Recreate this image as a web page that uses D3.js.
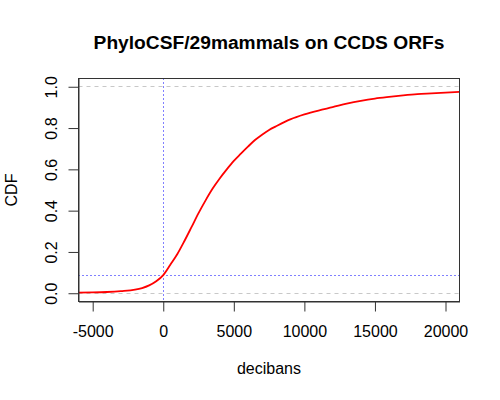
<!DOCTYPE html>
<html>
<head>
<meta charset="utf-8">
<script src="https://cdn.jsdelivr.net/npm/d3@7"></script>
<style>
  body { margin: 0; background: #fff; }
  svg { font-family: "Liberation Sans", Arial, sans-serif; }
</style>
</head>
<body>
<svg width="500" height="400"></svg>
<script>
// CDF, x in decibans
var decibans = [-6000, -5000, -4000, -3000, -2000, -1500, -1000, -500, 0, 500, 1000, 1500,
    2000, 2500, 3000, 3500, 4000, 4500, 5000, 5500, 6000, 6500, 7000, 7500, 8000,
    9000, 10000, 11000, 12000, 13000, 14000, 15000, 16000, 17000, 18000, 19000, 20000, 21000];
var cdf = [0.003, 0.004, 0.006, 0.010, 0.017, 0.025, 0.038, 0.058, 0.088, 0.138, 0.19, 0.253,
    0.32, 0.388, 0.45, 0.507, 0.556, 0.6, 0.641, 0.676, 0.71, 0.742, 0.768, 0.791, 0.809,
    0.842, 0.866, 0.885, 0.901, 0.918, 0.932, 0.943, 0.951, 0.958, 0.964, 0.968, 0.972, 0.975];
var xTicks = [-5000, 0, 5000, 10000, 15000, 20000];
var yTicks = [0, 0.2, 0.4, 0.6, 0.8, 1.0];
var refX = 0;       // vertical dotted line
var refY = 0.088;   // CDF at zero

var pLeft = 78.5, pRight = 459.5, pTop = 78.5, pBottom = 301.5;
var svg = d3.select("svg");

var x = d3.scaleLinear().domain([-6006, 20992]).range([pLeft, pRight]);
var y = d3.scaleLinear().domain([-0.04, 1.04]).range([pBottom, pTop]);
var crisp = v => Math.floor(v) + 0.5;

svg.append("defs").append("clipPath").attr("id", "plot")
    .append("rect")
    .attr("x", pLeft).attr("y", pTop)
    .attr("width", pRight - pLeft).attr("height", pBottom - pTop);

// gray dashed lines at 0 and 1
svg.selectAll(".hline")
    .data([0, 1])
    .enter().append("line")
    .attr("class", "hline")
    .attr("x1", pLeft).attr("x2", pRight)
    .attr("y1", d => crisp(y(d))).attr("y2", d => crisp(y(d)))
    .attr("stroke", "#c8c8c8")
    .attr("stroke-dasharray", "4,4");

// blue dotted reference lines
svg.append("line")
    .attr("x1", crisp(x(refX))).attr("x2", crisp(x(refX)))
    .attr("y1", pTop).attr("y2", pBottom)
    .attr("stroke", "blue").attr("stroke-dasharray", "1,3");
svg.append("line")
    .attr("x1", pLeft).attr("x2", pRight)
    .attr("y1", crisp(y(refY))).attr("y2", crisp(y(refY)))
    .attr("stroke", "blue").attr("stroke-dasharray", "1,3");

var line = d3.line()
    .x((d, i) => x(decibans[i]))
    .y(d => y(d))
    .curve(d3.curveMonotoneX);

svg.append("path")
    .datum(cdf)
    .attr("clip-path", "url(#plot)")
    .attr("fill", "none")
    .attr("stroke", "red")
    .attr("stroke-width", 1.8)
    .attr("d", line);

// box
svg.append("rect")
    .attr("x", pLeft).attr("y", pTop)
    .attr("width", pRight - pLeft).attr("height", pBottom - pTop)
    .attr("fill", "none").attr("stroke", "#333");

var xAxis = svg.append("g")
    .attr("transform", "translate(0," + pBottom + ")")
    .call(d3.axisBottom(x).tickValues(xTicks).tickSizeInner(10).tickSizeOuter(0)
        .tickFormat(d => String(d)));
xAxis.selectAll("text").attr("y", 35.5).attr("dy", 0);

var yAxis = svg.append("g")
    .attr("transform", "translate(" + pLeft + ",0)")
    .call(d3.axisLeft(y).tickValues(yTicks).tickSizeInner(10).tickSizeOuter(0)
        .tickFormat(d3.format(".1f")));
yAxis.selectAll("text")
    .attr("transform", "rotate(-90)")
    .attr("x", 0).attr("y", -22).attr("dy", 0)
    .style("text-anchor", "middle");

svg.selectAll("g.tick text").style("font-size", "16px").style("fill", "#000");
svg.selectAll("g.tick line, path.domain").attr("stroke", "#333");
svg.selectAll("g").attr("font-family", null).attr("font-size", null);

svg.append("text")
    .attr("x", (pLeft + pRight) / 2).attr("y", 374)
    .attr("text-anchor", "middle")
    .style("font-size", "16px")
    .text("decibans");

svg.append("text")
    .attr("transform", "translate(17.3," + (pTop + pBottom) / 2 + ") rotate(-90)")
    .attr("text-anchor", "middle")
    .style("font-size", "16px")
    .text("CDF");

svg.append("text")
    .attr("x", (pLeft + pRight) / 2).attr("y", 49)
    .attr("text-anchor", "middle")
    .style("font-size", "19.2px")
    .style("font-weight", "bold")
    .text("PhyloCSF/29mammals on CCDS ORFs");
</script>
</body>
</html>
